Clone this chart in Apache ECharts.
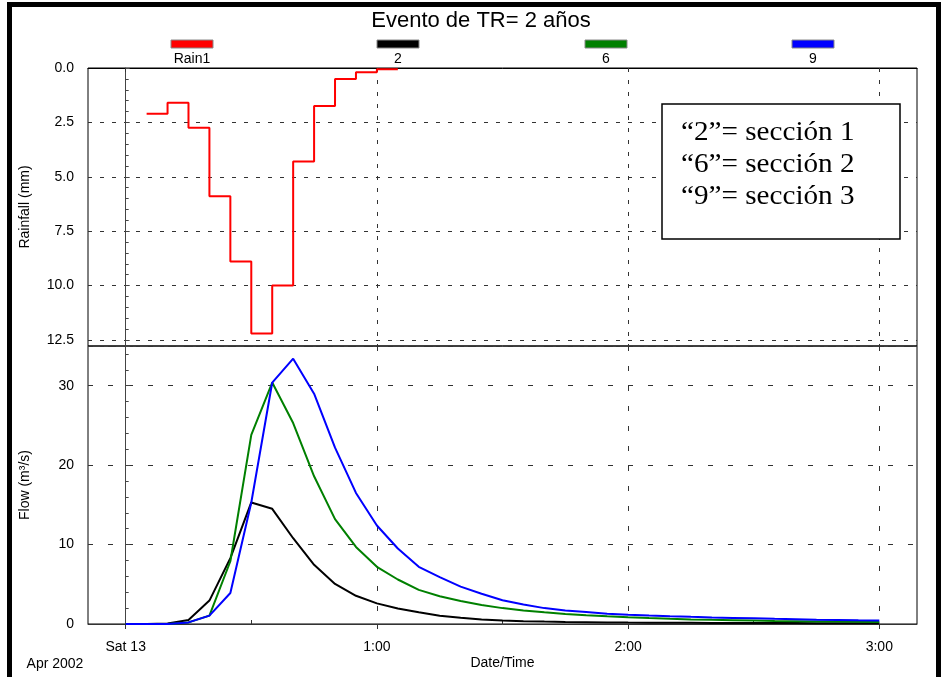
<!DOCTYPE html>
<html lang="es">
<head>
<meta charset="UTF-8">
<title>Evento de TR= 2 años</title>
<script src="https://cdn.jsdelivr.net/npm/echarts@6/dist/echarts.min.js"></script>
<style>html,body{margin:0;padding:0;background:#fff;}</style>
</head>
<body>
<div id="main" style="width:943px;height:677px;"></div>
<script>
// rainfall, 5-minute blocks (start minute of each block, mm)
var rainStart = [5, 10, 15, 20, 25, 30, 35, 40, 45, 50, 55, 60];
var rainEnd = 65;
var rainMm = [2.1, 1.6, 2.75, 5.9, 8.9, 12.2, 10.0, 4.3, 1.75, 0.5, 0.2, 0.06];

// flow, minutes after Sat 13 00:00
var flowTimes = [0, 5, 10, 15, 20, 25, 30, 35, 40, 45, 50, 55, 60, 65, 70, 75, 80, 85, 90,
    95, 100, 105, 110, 115, 120, 125, 130, 135, 140, 145, 150, 155, 160, 165, 170, 175, 180];
var flow2 = [0, 0, 0.05, 0.5, 2.95, 8.3, 15.3, 14.5, 10.8, 7.45,
    5.05, 3.55, 2.6, 1.95, 1.47, 1.05, 0.78, 0.58, 0.45, 0.36,
    0.3, 0.26, 0.23, 0.2, 0.18, 0.17, 0.16, 0.15, 0.14, 0.13,
    0.13, 0.12, 0.12, 0.11, 0.11, 0.1, 0.1];
var flow6 = [0, 0, 0, 0.2, 1.05, 7.9, 23.8, 30.4, 25.3, 18.6,
    13.2, 9.7, 7.2, 5.6, 4.3, 3.5, 2.9, 2.4, 2.0, 1.7,
    1.47, 1.26, 1.1, 0.97, 0.85, 0.74, 0.65, 0.58, 0.52, 0.47,
    0.43, 0.39, 0.36, 0.33, 0.3, 0.28, 0.26];
var flow9 = [0, 0, 0, 0.2, 1.05, 3.9, 15.3, 30.4, 33.4, 29.0,
    22.2, 16.5, 12.4, 9.5, 7.2, 5.9, 4.7, 3.8, 3.0, 2.45,
    2.0, 1.7, 1.5, 1.3, 1.17, 1.07, 0.98, 0.9, 0.83, 0.77,
    0.71, 0.65, 0.6, 0.55, 0.51, 0.47, 0.44];

var hourTicks = [0, 60, 120, 180];
var hourLabels = ['Sat 13', '1:00', '2:00', '3:00'];
var halfTicks = [30, 90, 150];

var legendNames = ['Rain1', '2', '6', '9'];
var legendColors = ['#ff0000', '#000000', '#008000', '#0000ff'];
var legendX = [192, 398, 606, 813];

var noteLines = ['\u201c2\u201d= secci\u00f3n 1', '\u201c6\u201d= secci\u00f3n 2', '\u201c9\u201d= secci\u00f3n 3'];

function pairs(xs, ys) {
    return xs.map(function (x, i) { return [x, ys[i]]; });
}
var rainData = pairs(rainStart, rainMm);
rainData.push([rainEnd, rainMm[rainMm.length - 1]]);

var font = 'Arial, "Liberation Sans", sans-serif';
var dashTop = { color: '#333', width: 1, type: [4, 8] };
var dashBot = { color: '#333', width: 1, type: [5, 15] };

var graphics = [];
// outer frame
graphics.push({
    type: 'rect', shape: { x: 9.5, y: 4.5, width: 929, height: 700 },
    style: { fill: 'none', stroke: '#000', lineWidth: 5 }, silent: true
});
graphics.push({
    type: 'text', x: 481, y: 21,
    style: { text: 'Evento de TR= 2 a\u00f1os', font: '22px ' + font, fill: '#000', textAlign: 'center', textVerticalAlign: 'middle' }
});
legendNames.forEach(function (n, i) {
    graphics.push({
        type: 'rect', shape: { x: legendX[i] - 21, y: 40, width: 42, height: 8 },
        style: { fill: legendColors[i], stroke: '#888', lineWidth: 1 }
    });
    graphics.push({
        type: 'text', x: legendX[i], y: 59,
        style: { text: n, font: '14px ' + font, fill: '#000', textAlign: 'center', textVerticalAlign: 'middle' }
    });
});
graphics.push({
    type: 'rect', shape: { x: 662, y: 104, width: 238, height: 135 },
    style: { fill: '#fff', stroke: '#000', lineWidth: 1.5 }, z: 10
});
noteLines.forEach(function (t, i) {
    graphics.push({
        type: 'text', x: 681, y: 133 + i * 32, z: 11, scaleX: 1.08,
        style: { text: t, font: '27px "Liberation Serif", "Times New Roman", serif', fill: '#000', textVerticalAlign: 'middle' }
    });
});
graphics.push({
    type: 'text', x: 55, y: 664,
    style: { text: 'Apr 2002', font: '14px ' + font, fill: '#000', textAlign: 'center', textVerticalAlign: 'middle' }
});

var myChart = echarts.init(document.getElementById('main'));
var option = {
    animation: false,
    backgroundColor: '#fff',
    textStyle: { fontFamily: font },
    grid: [
        { left: 88, top: 68, width: 829, height: 278, show: true, borderColor: '#000', borderWidth: 1 },
        { left: 88, top: 346, width: 829, height: 278, show: true, borderColor: '#000', borderWidth: 1 }
    ],
    xAxis: [
        {
            gridIndex: 0, type: 'value', min: -9, max: 189, position: 'top',
            axisLine: { show: true, lineStyle: { color: '#000' } },
            axisTick: { show: true, inside: true, length: 4, customValues: hourTicks, lineStyle: { color: '#333' } },
            axisLabel: { show: false, customValues: hourTicks },
            splitLine: { show: true, lineStyle: dashTop }
        },
        {
            gridIndex: 1, type: 'value', min: -9, max: 189, position: 'bottom',
            axisLine: { show: true, lineStyle: { color: '#333' } },
            axisTick: { show: true, inside: false, length: 5, customValues: hourTicks, lineStyle: { color: '#333' } },
            axisLabel: {
                customValues: hourTicks, margin: 16, fontSize: 14, color: '#000',
                formatter: function (v) { return hourLabels[hourTicks.indexOf(v)]; }
            },
            splitLine: { show: true, lineStyle: dashBot },
            name: 'Date/Time', nameLocation: 'middle', nameGap: 32,
            nameTextStyle: { fontSize: 14, color: '#000' }
        },
        {
            gridIndex: 1, type: 'value', min: -9, max: 189, position: 'bottom',
            axisLine: { show: false },
            axisTick: { show: true, inside: true, length: 4, customValues: halfTicks, lineStyle: { color: '#333' } },
            axisLabel: { show: false, customValues: halfTicks },
            splitLine: { show: false }
        }
    ],
    yAxis: [
        {
            gridIndex: 0, type: 'value', min: 0, max: 12.78, interval: 2.5, inverse: true,
            axisLine: { show: true, lineStyle: { color: '#444' } },
            axisTick: { show: true, inside: true, length: 4 },
            minorTick: { show: true, splitNumber: 5, length: 3, lineStyle: { color: '#444' } },
            axisLabel: {
                fontSize: 14, color: '#000', margin: 14, showMaxLabel: false,
                formatter: function (v) { return v.toFixed(1); }
            },
            splitLine: { show: true, lineStyle: dashTop },
            name: 'Rainfall (mm)', nameLocation: 'middle', nameGap: 56,
            nameTextStyle: { fontSize: 14, color: '#000' }
        },
        {
            gridIndex: 1, type: 'value', min: 0, max: 35, interval: 10,
            axisLine: { show: true, lineStyle: { color: '#444' } },
            axisTick: { show: true, inside: true, length: 4 },
            minorTick: { show: true, splitNumber: 5, length: 3, lineStyle: { color: '#444' } },
            axisLabel: { fontSize: 14, color: '#000', margin: 14, showMaxLabel: false },
            splitLine: { show: true, lineStyle: dashBot },
            name: 'Flow (m\u00b3/s)', nameLocation: 'middle', nameGap: 56,
            nameTextStyle: { fontSize: 14, color: '#000' }
        }
    ],
    series: [
        {
            name: 'Rain1', type: 'line', step: 'end', xAxisIndex: 0, yAxisIndex: 0,
            showSymbol: false, lineStyle: { color: legendColors[0], width: 2 }, data: rainData
        },
        {
            name: '2', type: 'line', xAxisIndex: 1, yAxisIndex: 1,
            showSymbol: false, lineStyle: { color: legendColors[1], width: 2 }, data: pairs(flowTimes, flow2)
        },
        {
            name: '6', type: 'line', xAxisIndex: 1, yAxisIndex: 1,
            showSymbol: false, lineStyle: { color: legendColors[2], width: 2 }, data: pairs(flowTimes, flow6)
        },
        {
            name: '9', type: 'line', xAxisIndex: 1, yAxisIndex: 1,
            showSymbol: false, lineStyle: { color: legendColors[3], width: 2 }, data: pairs(flowTimes, flow9)
        }
    ],
    graphic: graphics
};
option && myChart.setOption(option);
</script>
</body>
</html>
